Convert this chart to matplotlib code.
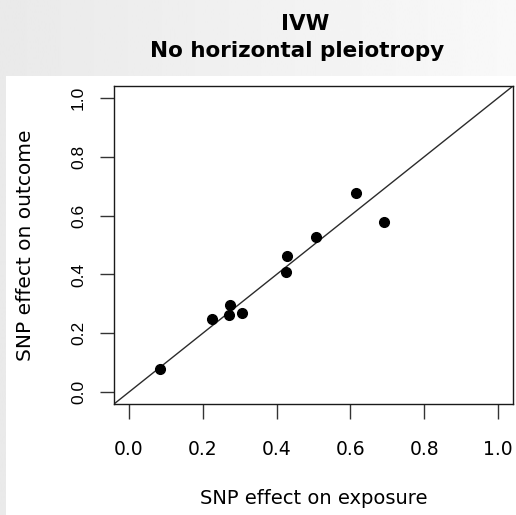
import numpy as np
import matplotlib
matplotlib.use("Agg")
import matplotlib.pyplot as plt
from matplotlib.patches import Rectangle

# SNP-level estimates
snp_exposure = [0.084, 0.226, 0.273, 0.271, 0.306, 0.427, 0.426, 0.507, 0.615, 0.692]
snp_outcome = [0.080, 0.248, 0.297, 0.262, 0.270, 0.461, 0.409, 0.526, 0.676, 0.579]

ticks = [0.0, 0.2, 0.4, 0.6, 0.8, 1.0]
tick_labels = ["0.0", "0.2", "0.4", "0.6", "0.8", "1.0"]

W, H = 516, 515
fig = plt.figure(figsize=(W / 100, H / 100), dpi=100)

# slide background with a soft grey gradient and the white plot panel
bg = fig.add_axes([0, 0, 1, 1], zorder=-5)
grad = np.linspace(0.915, 0.975, 256)[None, :]
bg.imshow(grad, cmap="gray", vmin=0, vmax=1, aspect="auto", extent=[0, 1, 0, 1])
bg.add_patch(Rectangle((6 / W, 0), 1, 1 - 76 / H, color="white", lw=0))
bg.set_xlim(0, 1); bg.set_ylim(0, 1)
bg.axis("off")

fig.text(305 / W, 1 - 30 / H, "IVW", ha="center", va="baseline",
         fontsize=15.5, fontweight="bold", family="DejaVu Sans")
fig.text(297 / W, 1 - 57 / H, "No horizontal pleiotropy", ha="center", va="baseline",
         fontsize=15.5, fontweight="bold", family="DejaVu Sans")

# main scatter
left, right, top, bottom = 114, 513, 86, 404
ax = fig.add_axes([left / W, 1 - bottom / H, (right - left) / W, (bottom - top) / H])
ax.plot(snp_exposure, snp_outcome, "o", ms=7, c="k", zorder=3)
ax.axline((0, 0), slope=1, color="#2b2b2b", lw=1.0)

ax.set_xlim(-0.04, 1.04)
ax.set_ylim(-0.04, 1.04)
for s in ax.spines.values():
    s.set_color("#1a1a1a"); s.set_linewidth(1.0)

ax.set_xticks(ticks)
ax.set_xticklabels(tick_labels, fontsize=13.5, family="DejaVu Sans")
ax.set_yticks(ticks)
ax.set_yticklabels(tick_labels, fontsize=12.5, family="Liberation Sans",
                   rotation=90, va="center")
ax.tick_params(axis="x", length=10.8, width=1.0, color="#333333", pad=15)
ax.tick_params(axis="y", length=10.2, width=1.0, color="#333333", pad=10)

ax.set_xlabel("SNP effect on exposure", fontsize=14, family="DejaVu Sans", va="baseline")
ax.xaxis.set_label_coords(0.5, -(504 - bottom) / (bottom - top))
ax.set_ylabel("SNP effect on outcome", fontsize=14.5, family="DejaVu Sans", va="center")
ax.yaxis.set_label_coords((26 - left) / (right - left), 0.5)

fig.savefig("out.png", dpi=100)
